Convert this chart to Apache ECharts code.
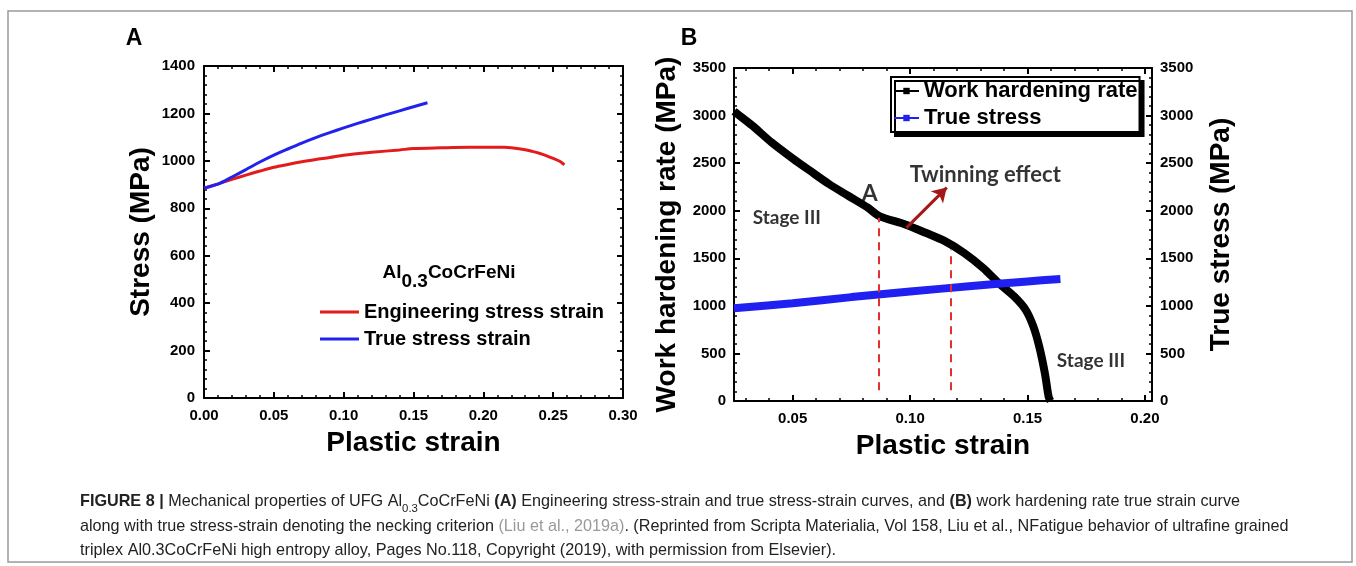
<!DOCTYPE html>
<html><head><meta charset="utf-8">
<style>html,body{margin:0;padding:0;background:#fff}#c{width:1356px;height:566px}</style>
<script src="https://cdn.jsdelivr.net/npm/echarts@6/dist/echarts.min.js"></script>
</head><body><div id="c"></div>
<script>
// ---------- Panel A data ----------
const engStrain = [0, 0.01, 0.02, 0.03, 0.04, 0.05, 0.06, 0.07, 0.08, 0.09, 0.10, 0.12, 0.14, 0.15, 0.17, 0.19, 0.21, 0.215, 0.22, 0.23, 0.235, 0.24, 0.245, 0.25, 0.255, 0.258];
const engStress = [885, 903, 922, 940, 957, 973, 985, 996, 1006, 1014, 1024, 1036, 1046, 1052, 1055, 1057, 1057, 1057, 1055, 1047, 1040, 1032, 1022, 1010, 997, 983];
const trueStrainA = [0, 0.01, 0.02, 0.03, 0.04, 0.05, 0.06, 0.07, 0.08, 0.09, 0.10, 0.11, 0.12, 0.13, 0.14, 0.15, 0.16];
const trueStressA = [885, 902, 932, 963, 995, 1024, 1050, 1075, 1098, 1119, 1139, 1158, 1176, 1194, 1211, 1228, 1245];
const ticksAx = [0, 0.05, 0.10, 0.15, 0.20, 0.25, 0.30];
const ticksAy = [0, 200, 400, 600, 800, 1000, 1200, 1400];

// ---------- Panel B data ----------
const whrStrain = [0.025, 0.0264, 0.0328, 0.041, 0.05, 0.0574, 0.0656, 0.0738, 0.082, 0.0869, 0.0979, 0.1066, 0.1148, 0.123, 0.1311, 0.1377, 0.1443, 0.1492, 0.1525, 0.155, 0.1574, 0.159, 0.1598];
const whrRate   = [3045, 3018, 2894, 2718, 2549, 2419, 2278, 2155, 2032, 1944, 1856, 1768, 1680, 1556, 1398, 1239, 1099, 958, 782, 570, 289, 42, 0];
const tsStrainB = [0.025, 0.05, 0.075, 0.10, 0.125, 0.15, 0.164];
const tsStressB = [975, 1028, 1092, 1151, 1205, 1257, 1282];
const ticksBx = [0.05, 0.10, 0.15, 0.20];
const minorBx = [0.03, 0.04, 0.05, 0.06, 0.07, 0.08, 0.09, 0.10, 0.11, 0.12, 0.13, 0.14, 0.15, 0.16, 0.17, 0.18, 0.19, 0.20];
const ticksBy = [0, 500, 1000, 1500, 2000, 2500, 3000, 3500];
const dashX = [0.0866, 0.1174];
const dashTop = [1926, 1592];
const dashBottom = 113;
const arrowFrom = [0.0984, 1820];
const arrowTo = [0.1156, 2243];
const annoText = ['A', 'Twinning effect', 'Stage III', 'Stage III'];
const annoX = [0.0828, 0.132, 0.0475, 0.177];
const annoY = [2183, 2373, 1926, 423];

// ---------- caption ----------
const capLines = [
  '{b|FIGURE 8 |} Mechanical properties of UFG Al{s|0.3}CoCrFeNi {b|(A)} Engineering stress-strain and true stress-strain curves, and {b|(B)} work hardening rate true strain curve',
  'along with true stress-strain denoting the necking criterion {g|(Liu et al., 2019a)}. (Reprinted from Scripta Materialia, Vol 158, Liu et al., NFatigue behavior of ultrafine grained',
  'triplex Al0.3CoCrFeNi high entropy alloy, Pages No.118, Copyright (2019), with permission from Elsevier).'
];

const zip = (a, b) => a.map((v, i) => [v, b[i]]);
const F = 'Liberation Sans';

function hasFont(name) {
  const c = document.createElement('canvas').getContext('2d');
  const s = 'abcdefghijklmnopqrstuvwxyzABCDEFG0123';
  c.font = '40px monospace'; const w0 = c.measureText(s).width;
  c.font = '40px "' + name + '", monospace'; return c.measureText(s).width !== w0;
}
const capFam = hasFont('Liberation Sans Narrow') ? 'Liberation Sans Narrow' : 'Liberation Sans';
function capSize() {
  const c = document.createElement('canvas').getContext('2d');
  c.font = '100px "' + capFam + '"';
  const plain = capLines[1].replace(/\{[a-z]+\|([^}]*)\}/g, '$1');
  return 100 * 1210 / c.measureText(plain).width;
}
const cs = capSize();

const tickLbl = { fontFamily: F, fontWeight: 'bold', fontSize: 15, color: '#000' };
const nameTs = { fontFamily: F, fontWeight: 'bold', fontSize: 28, color: '#000' };
const axLine = { show: true, onZero: false, lineStyle: { color: '#000', width: 2 } };
const tick = { show: true, inside: true, length: 6, lineStyle: { color: '#000', width: 2 } };
const minor = { show: true, splitNumber: 5, length: 3, lineStyle: { color: '#000', width: 1.5 } };
const plain = v => String(v);

const chart = echarts.init(document.getElementById('c'), null, { renderer: 'canvas' });
const option = {
  animation: false,
  backgroundColor: '#fff',
  grid: [
    { left: 204, top: 66, width: 419, height: 332 },
    { left: 734, top: 68, width: 418, height: 333 },
    { left: 734, top: 68, width: 418, height: 333 }
  ],
  xAxis: [
    { gridIndex: 0, type: 'value', position: 'bottom', min: ticksAx[0], max: ticksAx[ticksAx.length - 1], interval: 0.05,
      axisLine: axLine, axisTick: tick, minorTick: minor, splitLine: { show: false },
      axisLabel: { ...tickLbl, margin: 10, formatter: v => v.toFixed(2) },
      name: 'Plastic strain', nameLocation: 'middle', nameGap: 31, nameTextStyle: nameTs },
    { gridIndex: 0, type: 'value', position: 'top', min: 0, max: 0.3, interval: 0.05,
      axisLine: axLine, axisTick: tick, minorTick: minor, splitLine: { show: false }, axisLabel: { show: false } },
    { gridIndex: 1, type: 'value', position: 'bottom', min: 0.025, max: 0.203,
      axisLine: axLine, axisTick: { ...tick, customValues: ticksBx }, splitLine: { show: false },
      axisLabel: { ...tickLbl, margin: 10, customValues: ticksBx, formatter: v => v.toFixed(2) },
      name: 'Plastic strain', nameLocation: 'middle', nameGap: 31, nameTextStyle: nameTs },
    { gridIndex: 1, type: 'value', position: 'top', min: 0.025, max: 0.203,
      axisLine: axLine, axisTick: { ...tick, customValues: ticksBx }, splitLine: { show: false }, axisLabel: { show: false } },
    { gridIndex: 2, type: 'value', position: 'bottom', min: 0.025, max: 0.203,
      axisLine: { show: false }, axisTick: { show: true, inside: true, length: 3, customValues: minorBx, lineStyle: { color: '#000', width: 1.5 } },
      splitLine: { show: false }, axisLabel: { show: false } },
    { gridIndex: 2, type: 'value', position: 'top', min: 0.025, max: 0.203,
      axisLine: { show: false }, axisTick: { show: true, inside: true, length: 3, customValues: minorBx, lineStyle: { color: '#000', width: 1.5 } },
      splitLine: { show: false }, axisLabel: { show: false } }
  ],
  yAxis: [
    { gridIndex: 0, type: 'value', position: 'left', min: ticksAy[0], max: ticksAy[ticksAy.length - 1], interval: 200,
      axisLine: axLine, axisTick: tick, minorTick: minor, splitLine: { show: false },
      axisLabel: { ...tickLbl, margin: 9, formatter: plain },
      name: 'Stress (MPa)', nameLocation: 'middle', nameGap: 49, nameRotate: 90, nameTextStyle: nameTs },
    { gridIndex: 0, type: 'value', position: 'right', min: 0, max: 1400, interval: 200,
      axisLine: axLine, axisTick: tick, minorTick: minor, splitLine: { show: false }, axisLabel: { show: false } },
    { gridIndex: 1, type: 'value', position: 'left', min: ticksBy[0], max: ticksBy[ticksBy.length - 1], interval: 500,
      axisLine: axLine, axisTick: tick, minorTick: minor, splitLine: { show: false },
      axisLabel: { ...tickLbl, margin: 8, formatter: plain },
      name: 'Work hardening rate (MPa)', nameLocation: 'middle', nameGap: 53, nameRotate: 90, nameTextStyle: nameTs },
    { gridIndex: 1, type: 'value', position: 'right', min: 0, max: 3500, interval: 500,
      axisLine: axLine, axisTick: tick, minorTick: minor, splitLine: { show: false },
      axisLabel: { ...tickLbl, margin: 8, formatter: plain },
      name: 'True stress (MPa)', nameLocation: 'middle', nameGap: 55, nameRotate: 90, nameTextStyle: nameTs },
    { gridIndex: 2, type: 'value', show: false, min: 0, max: 3500 }
  ],
  legend: [
    { data: ['Engineering stress strain', 'True stress strain'], orient: 'vertical', left: 315, top: 297,
      itemWidth: 39, itemHeight: 3, icon: 'rect', itemGap: 7, selectedMode: false,
      textStyle: { fontFamily: F, fontWeight: 'bold', fontSize: 20, color: '#000' } },
    { data: ['Work hardening rate', 'True stress'], orient: 'vertical', left: 891, top: 77,
      itemWidth: 25, itemHeight: 8, itemGap: 5, selectedMode: false, padding: [3, 2, 3, 2],
      backgroundColor: '#fff', borderColor: '#000', borderWidth: 2,
      shadowColor: '#000', shadowOffsetX: 4, shadowOffsetY: 4, shadowBlur: 0,
      lineStyle: { width: 2 },
      textStyle: { fontFamily: F, fontWeight: 'bold', fontSize: 22, color: '#000' } }
  ],
  series: [
    { name: 'Engineering stress strain', type: 'line', xAxisIndex: 0, yAxisIndex: 0, data: zip(engStrain, engStress),
      symbol: 'none', smooth: 0.3, lineStyle: { color: '#e31b1b', width: 3 }, itemStyle: { color: '#e31b1b' } },
    { name: 'True stress strain', type: 'line', xAxisIndex: 0, yAxisIndex: 0, data: zip(trueStrainA, trueStressA),
      symbol: 'none', smooth: 0.3, lineStyle: { color: '#2222ee', width: 3 }, itemStyle: { color: '#2222ee' } },
    { name: 'Work hardening rate', type: 'line', xAxisIndex: 2, yAxisIndex: 2, data: zip(whrStrain, whrRate),
      symbol: 'rect', symbolSize: 6, showSymbol: false, smooth: 0.3, z: 3,
      lineStyle: { color: '#000', width: 8 }, itemStyle: { color: '#000' },
      markLine: { silent: true, animation: false, symbol: ['none', 'none'], label: { show: false },
        lineStyle: { color: '#e23030', width: 2, type: [8, 6] },
        data: [
          [{ coord: [dashX[0], dashBottom] }, { coord: [dashX[0], dashTop[0]] }],
          [{ coord: [dashX[1], dashBottom] }, { coord: [dashX[1], dashTop[1]] }],
          [{ coord: arrowFrom, symbol: 'none', lineStyle: { color: '#a31818', width: 3, type: 'solid' } },
           { coord: arrowTo, symbol: 'arrow', symbolSize: [13, 14], lineStyle: { color: '#a31818', width: 3, type: 'solid' } }]
        ] } },
    { name: 'True stress', type: 'line', xAxisIndex: 2, yAxisIndex: 3, data: zip(tsStrainB, tsStressB),
      symbol: 'rect', symbolSize: 6, showSymbol: false, smooth: 0.3, z: 4,
      lineStyle: { color: '#2020f0', width: 8 }, itemStyle: { color: '#2020f0' } },
    { type: 'scatter', xAxisIndex: 2, yAxisIndex: 2, silent: true, z: 6, symbolSize: 1,
      itemStyle: { color: 'rgba(0,0,0,0)' },
      data: annoText.map((t, i) => ({ value: [annoX[i], annoY[i]], name: t,
        label: { fontSize: [23, 22, 19, 19][i] } })),
      label: { show: true, position: 'inside', formatter: '{b}', color: '#000', fontFamily: 'Lato', fontWeight: 'bold' } }
  ],
  graphic: [
    { type: 'rect', silent: true, z: -10, shape: { x: 8, y: 11, width: 1344, height: 551 },
      style: { fill: 'none', stroke: '#9a9a9a', lineWidth: 1.5 } },
    { type: 'text', x: 134, y: 39, style: { text: 'A', font: 'bold 23px "Liberation Sans"', fill: '#000', align: 'center', verticalAlign: 'middle' } },
    { type: 'text', x: 689, y: 39, style: { text: 'B', font: 'bold 23px "Liberation Sans"', fill: '#000', align: 'center', verticalAlign: 'middle' } },
    { type: 'text', x: 449, y: 277, style: { text: '{m|Al}{s|0.3}{m|CoCrFeNi}', align: 'center', verticalAlign: 'middle',
        rich: { m: { fontFamily: F, fontWeight: 'bold', fontSize: 19, lineHeight: 22, verticalAlign: 'top', fill: '#000' },
                s: { fontFamily: F, fontWeight: 'bold', fontSize: 19, lineHeight: 28, verticalAlign: 'bottom', fill: '#000' } } } },
  ].concat(capLines.map((t, i) => ({
    type: 'text', x: 80, y: [502, 527, 551][i],
    style: { text: t, verticalAlign: 'middle', align: 'left',
      fontFamily: capFam, fontSize: cs, fill: '#222',
      rich: {
        b: { fontFamily: capFam, fontWeight: 'bold', fontSize: cs, fill: '#222' },
        s: { fontFamily: capFam, fontSize: cs * 0.7, fill: '#222', verticalAlign: 'bottom', lineHeight: cs * 1.5 },
        g: { fontFamily: capFam, fontSize: cs, fill: '#999' }
      } }
  })))
};
chart.setOption(option);
</script></body></html>
